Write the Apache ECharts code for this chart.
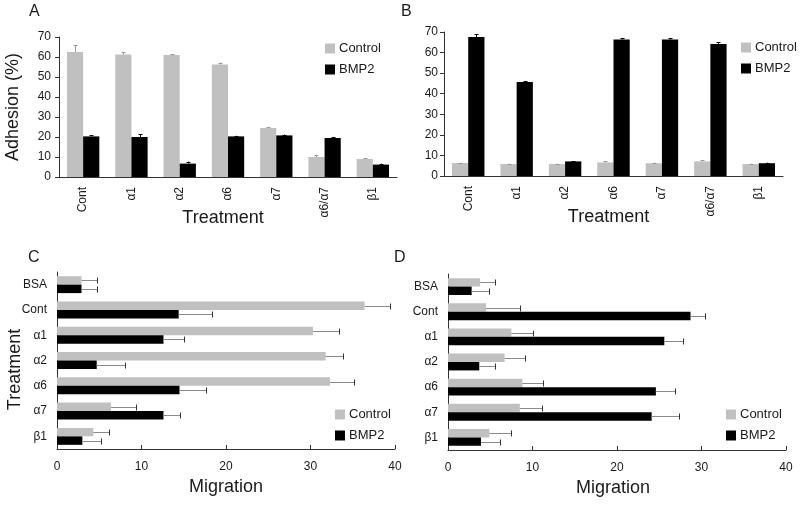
<!DOCTYPE html>
<html>
<head>
<meta charset="utf-8">
<script src="https://cdn.jsdelivr.net/npm/echarts@6/dist/echarts.min.js"></script>
<style>html,body{margin:0;padding:0;background:#fff}#c{width:800px;height:513px}</style>
</head>
<body>
<div id="c"></div>
<script>
// ---- data ----
const catsAB = ['Cont', 'α1', 'α2', 'α6', 'α7', 'α6/α7', 'β1'];
const catsCD = ['BSA', 'Cont', 'α1', 'α2', 'α6', 'α7', 'β1'];

const aControl = [62.5, 61.2, 61.0, 56.2, 24.5, 10.0, 9.0];
const aControlErr = [3.3, 1.3, 0.3, 1.0, 0.5, 1.0, 0.5];
const aBMP2 = [20.3, 20.0, 6.7, 20.3, 20.8, 19.5, 6.2];
const aBMP2Err = [0.5, 1.3, 1.0, 0.3, 0.4, 0.5, 0.5];

const bControl = [6.3, 5.8, 5.8, 6.6, 6.2, 7.1, 5.8];
const bControlErr = [0.2, 0.2, 0.2, 0.5, 0.3, 0.5, 0.2];
const bBMP2 = [67.6, 45.7, 7.1, 66.3, 66.3, 64.2, 6.2];
const bBMP2Err = [1.3, 0.3, 0.2, 0.8, 0.8, 0.9, 0.3];

const cControl = [2.9, 36.4, 30.3, 31.8, 32.3, 6.4, 4.3];
const cControlErr = [1.8, 3.0, 3.1, 2.1, 2.9, 2.9, 1.8];
const cBMP2 = [2.9, 14.4, 12.6, 4.7, 14.5, 12.6, 3.0];
const cBMP2Err = [1.8, 3.9, 2.4, 3.3, 3.1, 2.0, 2.2];

const dControl = [3.8, 4.5, 7.5, 6.7, 8.8, 8.5, 4.9];
const dControlErr = [1.8, 4.0, 2.6, 2.4, 2.5, 2.6, 2.5];
const dBMP2 = [2.8, 28.7, 25.6, 3.7, 24.6, 24.1, 3.9];
const dBMP2Err = [2.0, 1.7, 2.2, 1.9, 2.3, 3.2, 2.3];

// ---- styling ----
const FONT = 'Liberation Sans, Arial, sans-serif';
const TXT = '#1a1a1a';
const LINE = '#333';
const GRAY = '#c0c0c0';
const BLACK = '#000';
const GAP = 0.33;

const chart = echarts.init(document.getElementById('c'), null, {renderer: 'canvas'});

function vErr(name, vals, errs, side, color, xi, yi) {
  return {
    type: 'custom', name: name, xAxisIndex: xi, yAxisIndex: yi, z: 5, silent: true,
    data: vals.map((v, i) => [i, v, v + errs[i]]),
    renderItem: function (params, api) {
      const band = api.size([1, 0])[0];
      const bw = band * (1 - GAP) / 2;
      const p0 = api.coord([api.value(0), api.value(1)]);
      const p1 = api.coord([api.value(0), api.value(2)]);
      const x = Math.round(p0[0] + side * bw / 2) + 0.5;
      const st = {stroke: color, lineWidth: 1};
      return {type: 'group', children: [
        {type: 'line', shape: {x1: x, y1: p0[1], x2: x, y2: p1[1]}, style: st},
        {type: 'line', shape: {x1: x - 2, y1: Math.round(p1[1]) + 0.5, x2: x + 2, y2: Math.round(p1[1]) + 0.5}, style: st}
      ]};
    }
  };
}
function hErr(name, vals, errs, side, color, capColor, xi, yi) {
  return {
    type: 'custom', name: name, xAxisIndex: xi, yAxisIndex: yi, z: 5, silent: true,
    data: vals.map((v, i) => [v, i, v + errs[i]]),
    renderItem: function (params, api) {
      const band = Math.abs(api.size([0, 1])[1]);
      const bw = band * (1 - GAP) / 2;
      const p0 = api.coord([api.value(0), api.value(1)]);
      const p1 = api.coord([api.value(2), api.value(1)]);
      const y = Math.round(p0[1] + side * bw / 2) + 0.5;
      const xe = Math.round(p1[0]) + 0.5;
      return {type: 'group', children: [
        {type: 'line', shape: {x1: p0[0], y1: y, x2: xe, y2: y}, style: {stroke: color, lineWidth: 1}},
        {type: 'line', shape: {x1: xe, y1: y - 3, x2: xe, y2: y + 3}, style: {stroke: capColor, lineWidth: 1}}
      ]};
    }
  };
}
function bar(name, vals, color, xi, yi) {
  return {type: 'bar', name: name, xAxisIndex: xi, yAxisIndex: yi, data: vals,
    itemStyle: {color: color}, barGap: 0, barCategoryGap: (GAP * 100) + '%', z: 2};
}

const nameStyle = {fontFamily: FONT, fontSize: 18, color: TXT};
const lblStyle = {fontFamily: FONT, fontSize: 12, color: TXT};

function catX(gi) {
  return {type: 'category', gridIndex: gi, data: catsAB,
    axisLine: {lineStyle: {color: LINE}}, axisTick: {show: false},
    axisLabel: Object.assign({rotate: 90, margin: 10, interval: 0}, lblStyle),
    name: 'Treatment', nameLocation: 'middle', nameGap: 32, nameMoveOverlap: false,
    nameTextStyle: Object.assign({padding: [0, 10, 0, 0]}, nameStyle)};
}
function valY(gi, name, margin) {
  return {type: 'value', gridIndex: gi, min: 0, max: 70, interval: 10,
    axisLine: {show: true, lineStyle: {color: LINE}},
    axisTick: {show: true, length: 4, lineStyle: {color: LINE}},
    splitLine: {show: false},
    axisLabel: Object.assign({margin: margin}, lblStyle),
    name: name, nameLocation: 'middle', nameGap: 37, nameMoveOverlap: false, nameTextStyle: nameStyle};
}
function valX(gi, padR) {
  return {type: 'value', gridIndex: gi, min: 0, max: 40, interval: 10,
    axisLine: {show: true, lineStyle: {color: LINE}},
    axisTick: {show: true, inside: true, length: 4, lineStyle: {color: LINE}},
    splitLine: {show: false},
    axisLabel: Object.assign({margin: 12}, lblStyle),
    name: 'Migration', nameLocation: 'middle', nameGap: 29, nameMoveOverlap: false,
    nameTextStyle: Object.assign({padding: [0, padR, 0, 0]}, nameStyle)};
}
function catY(gi, name) {
  return {type: 'category', gridIndex: gi, data: catsCD, inverse: true,
    axisLine: {lineStyle: {color: LINE}}, axisTick: {show: false},
    axisLabel: Object.assign({margin: 10, interval: 0}, lblStyle),
    name: name, nameLocation: 'middle', nameGap: 33, nameMoveOverlap: false,
    nameTextStyle: Object.assign({padding: [0, 18, 0, 0]}, nameStyle)};
}
function legend(left, top) {
  return {left: left, top: top, orient: 'vertical', itemWidth: 10, itemHeight: 10,
    itemGap: 8, icon: 'rect', data: ['Control', 'BMP2'],
    textStyle: {fontFamily: FONT, fontSize: 13, color: TXT, padding: [0, 0, 0, -1]},
    selectedMode: false};
}
function letter(t, l, tp) {
  return {type: 'text', left: l, top: tp, style: {text: t, fontFamily: FONT, fontSize: 16, fill: TXT}};
}

const option = {
  animation: false,
  backgroundColor: '#fff',
  grid: [
    {left: 59, top: 37, width: 338, height: 140},
    {left: 444, top: 32, width: 339, height: 144},
    {left: 57, top: 272, width: 338, height: 177},
    {left: 448, top: 274, width: 338, height: 176}
  ],
  xAxis: [catX(0), catX(1), valX(2, 0), valX(3, 8)],
  yAxis: [valY(0, 'Adhesion (%)', 8), valY(1, '', 6), catY(2, 'Treatment'), catY(3, '')],
  legend: [legend(320, 37), legend(736, 36), legend(330, 403), legend(721, 403)],
  graphic: [letter('A', 29, 4), letter('B', 401, 4), letter('C', 28, 250), letter('D', 394, 250)],
  series: [
    bar('Control', aControl, GRAY, 0, 0), bar('BMP2', aBMP2, BLACK, 0, 0),
    vErr('Control', aControl, aControlErr, -1, '#999', 0, 0), vErr('BMP2', aBMP2, aBMP2Err, 1, BLACK, 0, 0),
    bar('Control', bControl, GRAY, 1, 1), bar('BMP2', bBMP2, BLACK, 1, 1),
    vErr('Control', bControl, bControlErr, -1, '#999', 1, 1), vErr('BMP2', bBMP2, bBMP2Err, 1, BLACK, 1, 1),
    bar('Control', cControl, GRAY, 2, 2), bar('BMP2', cBMP2, BLACK, 2, 2),
    hErr('Control', cControl, cControlErr, -1, '#8a8a8a', '#333', 2, 2), hErr('BMP2', cBMP2, cBMP2Err, 1, '#8a8a8a', '#333', 2, 2),
    bar('Control', dControl, GRAY, 3, 3), bar('BMP2', dBMP2, BLACK, 3, 3),
    hErr('Control', dControl, dControlErr, -1, '#8a8a8a', '#333', 3, 3), hErr('BMP2', dBMP2, dBMP2Err, 1, '#8a8a8a', '#333', 3, 3)
  ]
};
chart.setOption(option);
</script>
</body>
</html>
